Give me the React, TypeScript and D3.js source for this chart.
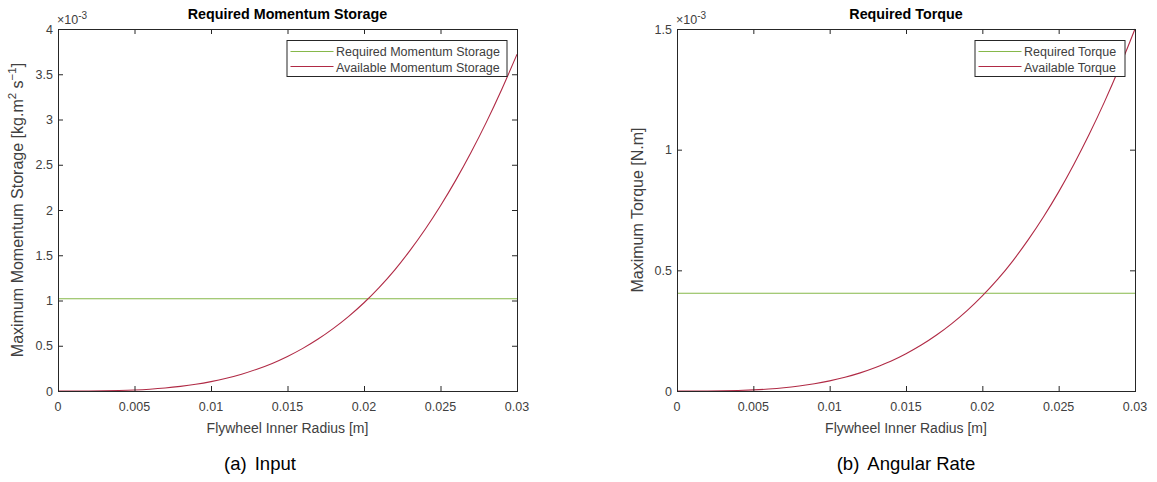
import React from "react";
import * as d3 from "d3";

const radius = [0, 0.001, 0.002, 0.003, 0.004, 0.005, 0.006, 0.007, 0.008, 0.009, 0.01, 0.011, 0.012, 0.013, 0.014, 0.015, 0.016, 0.017, 0.018, 0.019, 0.02, 0.021, 0.022, 0.023, 0.024, 0.025, 0.026, 0.027, 0.028, 0.029, 0.03];
// values in units of 1e-3
const availableMomentum = [0, 0.00006, 0.00056, 0.0021, 0.0053, 0.011, 0.020, 0.033, 0.051, 0.074, 0.104, 0.141, 0.186, 0.241, 0.305, 0.382, 0.471, 0.574, 0.692, 0.825, 0.975, 1.145, 1.336, 1.551, 1.787, 2.047, 2.330, 2.638, 2.971, 3.332, 3.72];
const requiredMomentum = [1.02, 1.02];
const availableTorque = [0, 0.00002, 0.00023, 0.00085, 0.0021, 0.0045, 0.0081, 0.0133, 0.0206, 0.0298, 0.0420, 0.0570, 0.0752, 0.0975, 0.1232, 0.1545, 0.1903, 0.2318, 0.2792, 0.3330, 0.3940, 0.4622, 0.5395, 0.6260, 0.7210, 0.8250, 0.9395, 1.0635, 1.1980, 1.3435, 1.5];
const requiredTorque = [0.405, 0.405];
const requiredX = [0, 0.03];

const xTicks = [0, 0.005, 0.01, 0.015, 0.02, 0.025, 0.03];
const xTickLabels = ["0", "0.005", "0.01", "0.015", "0.02", "0.025", "0.03"];
const momentumTicks = [0, 0.5, 1, 1.5, 2, 2.5, 3, 3.5, 4];
const torqueTicks = [0, 0.5, 1, 1.5];

const GREEN = "#86B84A";
const RED = "#B02A45";
const AX = "#262626";
const TXT = "#404040";
const FONT = "'Liberation Sans', Arial, Helvetica, sans-serif";

type PanelProps = {
  left: number;
  right: number;
  title: string;
  yMax: number;
  yTicks: number[];
  avail: number[];
  req: number[];
  reqLabel: string;
  availLabel: string;
  legendWidth: number;
  yLabel: React.ReactNode;
  caption: React.ReactNode;
};

function Panel(p: PanelProps) {
  const top = 29;
  const bottom = 391;
  const x = d3.scaleLinear().domain([0, 0.03]).range([p.left, p.right]);
  const y = d3.scaleLinear().domain([0, p.yMax]).range([bottom, top]);
  const line = d3
    .line<[number, number]>()
    .x((d) => x(d[0]))
    .y((d) => y(d[1]))
    .curve(d3.curveMonotoneX);
  const availPts: [number, number][] = radius.map((r, i) => [r, p.avail[i]]);
  const reqPts: [number, number][] = requiredX.map((r, i) => [r, p.req[i]]);
  const cx = (p.left + p.right) / 2;
  const lgRight = p.right - 10.5;
  const lgLeft = lgRight - p.legendWidth;
  const tick = 5;
  return (
    <g fontFamily={FONT}>
      <defs>
        <clipPath id={`clip-${p.left}`}>
          <rect x={p.left} y={top - 2} width={p.right - p.left + 2} height={bottom - top + 3} />
        </clipPath>
      </defs>
      <text x={cx} y={19} textAnchor="middle" fontSize={14.3} fontWeight="bold" fill="#000">
        {p.title}
      </text>
      <text x={p.left - 1} y={24} fontSize={12.5} fill={TXT}>
        ×10<tspan dy={-5} fontSize={10}>-3</tspan>
      </text>
      <g clipPath={`url(#clip-${p.left})`}>
        <path d={line(reqPts) ?? ""} fill="none" stroke={GREEN} strokeWidth={1.1} />
        <path d={line(availPts) ?? ""} fill="none" stroke={RED} strokeWidth={1.1} />
      </g>
      <rect x={p.left + 0.5} y={top + 0.5} width={p.right - p.left} height={bottom - top} fill="none" stroke={AX} strokeWidth={1} />
      {xTicks.map((t, i) => (
        <g key={"x" + i}>
          <line x1={x(t) + 0.5} x2={x(t) + 0.5} y1={bottom} y2={bottom - tick} stroke={AX} />
          <line x1={x(t) + 0.5} x2={x(t) + 0.5} y1={top} y2={top + tick} stroke={AX} />
          <text x={x(t)} y={411} textAnchor="middle" fontSize={12.5} fill={TXT}>
            {xTickLabels[i]}
          </text>
        </g>
      ))}
      {p.yTicks.map((t, i) => (
        <g key={"y" + i}>
          <line x1={p.left} x2={p.left + tick} y1={y(t) + 0.5} y2={y(t) + 0.5} stroke={AX} />
          <line x1={p.right} x2={p.right - tick} y1={y(t) + 0.5} y2={y(t) + 0.5} stroke={AX} />
          <text x={p.left - 5} y={y(t) + 4.5} textAnchor="end" fontSize={12.5} fill={TXT}>
            {String(t)}
          </text>
        </g>
      ))}
      <text x={cx} y={433} textAnchor="middle" fontSize={14} fill={TXT}>
        Flywheel Inner Radius [m]
      </text>
      {p.yLabel}
      <rect x={lgLeft + 0.5} y={40.5} width={p.legendWidth} height={36} fill="#fff" stroke={AX} strokeWidth={1} />
      <line x1={lgLeft + 4} x2={lgLeft + 47} y1={51.5} y2={51.5} stroke={GREEN} strokeWidth={1.1} />
      <line x1={lgLeft + 4} x2={lgLeft + 47} y1={66.5} y2={66.5} stroke={RED} strokeWidth={1.1} />
      <text x={lgLeft + 49.5} y={56} fontSize={12.5} fill={TXT}>
        {p.reqLabel}
      </text>
      <text x={lgLeft + 49.5} y={71.5} fontSize={12.5} fill={TXT}>
        {p.availLabel}
      </text>
      {p.caption}
    </g>
  );
}

export default function App() {
  return (
    <svg
      width={1157}
      height={482}
      style={{ position: "absolute", left: 0, top: 0, background: "#fff" }}
      fontFamily={FONT}
    >
      <rect width={1157} height={482} fill="#fff" />
      <Panel
        left={58}
        right={517}
        title="Required Momentum Storage"
        yMax={4}
        yTicks={momentumTicks}
        avail={availableMomentum}
        req={requiredMomentum}
        reqLabel="Required Momentum Storage"
        availLabel="Available Momentum Storage"
        legendWidth={220}
        yLabel={
          <text transform="translate(23,210) rotate(-90)" textAnchor="middle" fontSize={16} fill={TXT}>
            Maximum Momentum Storage [kg.m<tspan dy={-7} fontSize={11.5}>2</tspan>
            <tspan dy={7}> s</tspan>
            <tspan dy={-7} fontSize={11.5}>−1</tspan>
            <tspan dy={7}>]</tspan>
          </text>
        }
        caption={
          <text x={260} y={470} textAnchor="middle" fontSize={18.5} fill="#000">
            (a)<tspan dx={8}>Input</tspan>
          </text>
        }
      />
      <Panel
        left={677}
        right={1135}
        title="Required Torque"
        yMax={1.5}
        yTicks={torqueTicks}
        avail={availableTorque}
        req={requiredTorque}
        reqLabel="Required Torque"
        availLabel="Available Torque"
        legendWidth={150}
        yLabel={
          <text transform="translate(643,210) rotate(-90)" textAnchor="middle" fontSize={16} fill={TXT}>
            Maximum Torque [N.m]
          </text>
        }
        caption={
          <text x={906} y={470} textAnchor="middle" fontSize={18.5} fill="#000">
            (b)<tspan dx={8}>Angular Rate</tspan>
          </text>
        }
      />
    </svg>
  );
}
